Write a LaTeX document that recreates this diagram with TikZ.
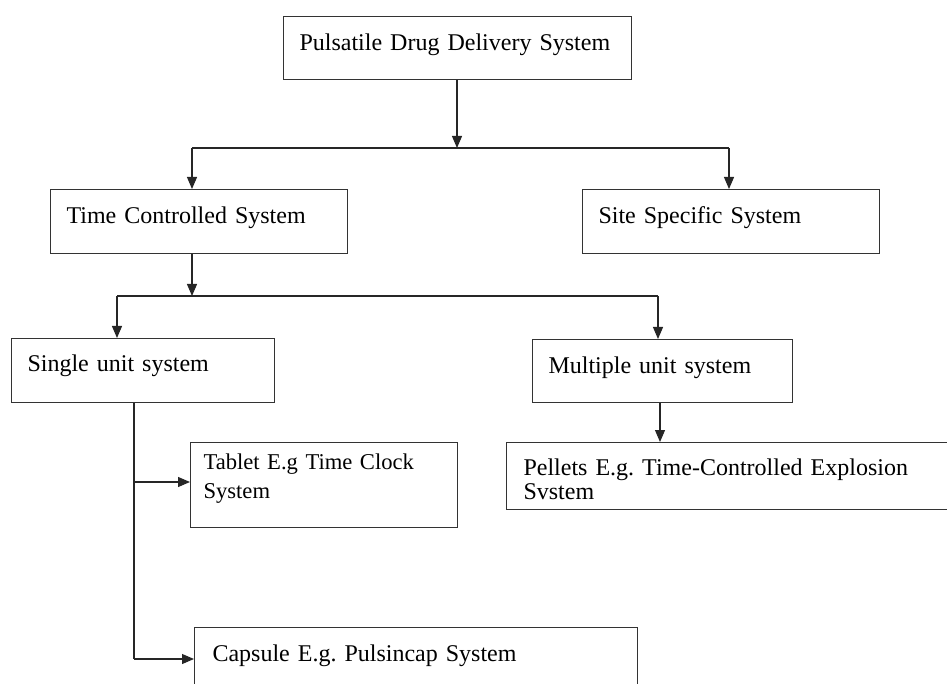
\documentclass[tikz,border=0pt]{standalone}
\usepackage{fontspec}
\setmainfont{Liberation Serif}
\usepackage{tikz}
\usetikzlibrary{arrows.meta}
\newcommand{\BoxPad}{16pt}
\frenchspacing

\begin{document}
\begin{tikzpicture}[x=1pt,y=-1pt,
  blk/.style={draw=black!80, line width=1.1pt, anchor=north west, align=left,
    inner xsep=\BoxPad, inner ysep=0pt, text height=34pt,
    font=\fontsize{24}{29}\selectfont},
  con/.style={draw=black!85, line width=1.1pt},
  arr/.style={con, -{Triangle[width=10pt,length=12pt]}}]

\useasboundingbox (0,0) rectangle (947,684);
\clip (0,0) rectangle (947,684);

% boxes
\node[blk, text width=316pt, text depth=29pt] (pdds) at (283,16) {Pulsatile Drug Delivery System};
\node[blk, text width=265pt, text depth=30pt] (tcs) at (50,189) {Time Controlled System};
\node[blk, text width=265pt, text depth=30pt] (sss) at (582,189) {Site Specific System};
\node[blk, text width=231pt, text height=33pt, text depth=31pt] (sus) at (11,338) {Single unit system};
\node[blk, text width=228pt, text depth=29pt] (mus) at (532,339) {Multiple unit system};
\node[blk, inner xsep=13pt, text width=241pt, text height=27pt, text depth=58pt,
  font=\fontsize{22.6}{29}\selectfont] (tab) at (190,442) {Tablet E.g Time Clock\\System};
\node[blk, inner xsep=17pt, text width=430pt, text height=33pt, text depth=34pt,
  font=\fontsize{24}{24}\selectfont] (pel) at (506,442) {Pellets E.g. Time-Controlled Explosion\\Svstem};
\node[blk, inner xsep=18pt, text width=407pt, text depth=40pt] (cap) at (194,627) {Capsule E.g. Pulsincap System};

% first split
\coordinate (j1) at (457,148);
\coordinate (b1) at (192,148);
\coordinate (b2) at (729,148);
\draw[arr] (pdds.south -| j1) -- (j1);
\draw[con] (b1) -- (b2);
\draw[arr] (b1) -- (b1 |- tcs.north);
\draw[arr] (b2) -- (b2 |- sss.north);

% second split
\coordinate (j2) at (192,296);
\coordinate (b3) at (117,296);
\coordinate (b4) at (658,296);
\draw[arr] (j2 |- tcs.south) -- (j2);
\draw[con] (b3) -- (b4);
\draw[arr] (b3) -- (b3 |- sus.north);
\draw[arr] (b4) -- (b4 |- mus.north);

\coordinate (j3) at (660,420);
\draw[arr] (mus.south -| j3) -- (j3 |- pel.north);

% single unit branches
\coordinate (t1) at (134,482);
\coordinate (t2) at (134,659);
\draw[con] (sus.south -| t2) -- (t2);
\draw[arr] (t1) -- (t1 -| tab.west);
\draw[arr] (t2) -- (t2 -| cap.west);

\end{tikzpicture}
\end{document}
